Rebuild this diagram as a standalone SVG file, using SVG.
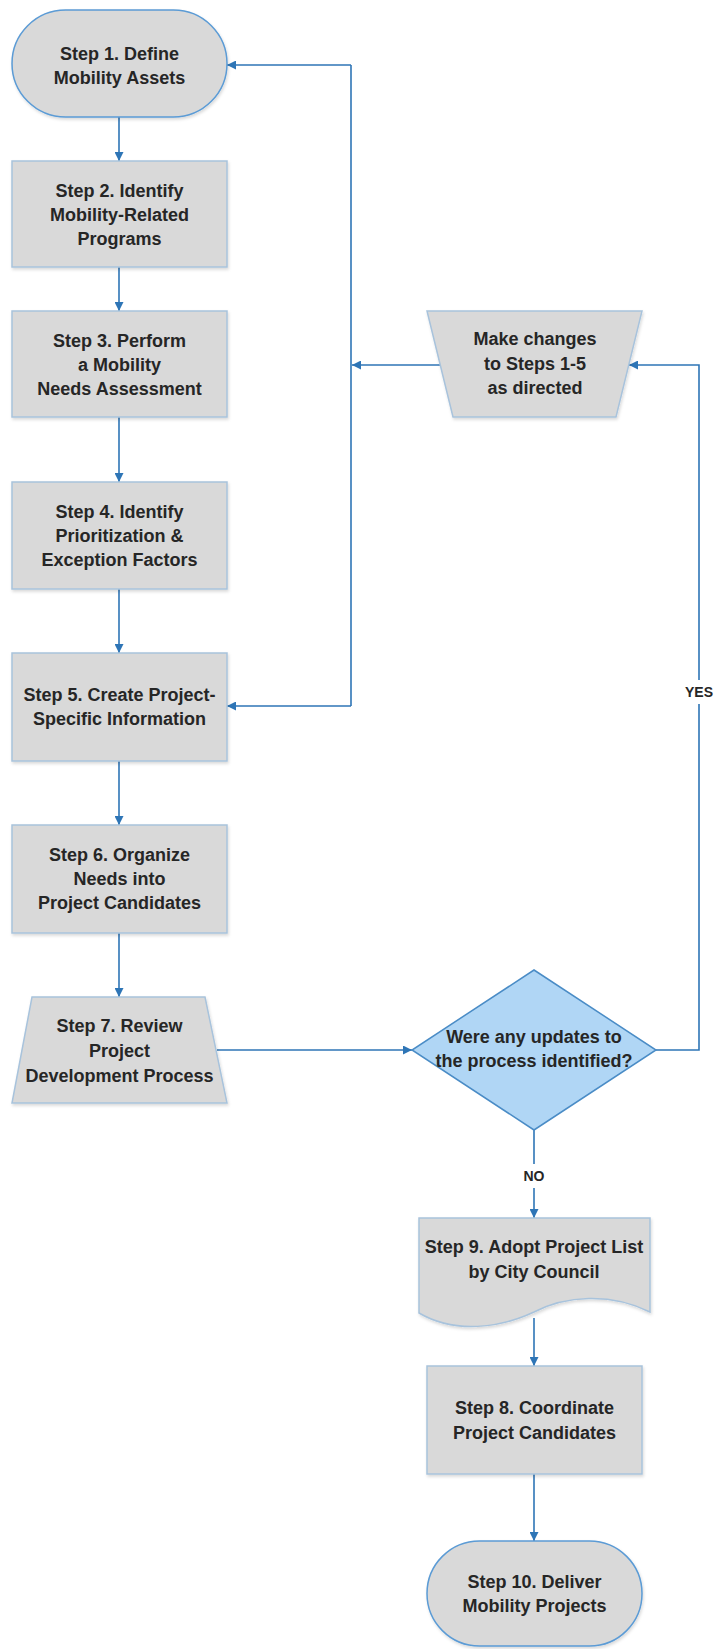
<svg xmlns="http://www.w3.org/2000/svg" width="718" height="1649" viewBox="0 0 718 1649">
<defs>
<marker id="ah" viewBox="0 0 10 10" refX="10" refY="5" markerWidth="9" markerHeight="9" markerUnits="userSpaceOnUse" orient="auto">
<path d="M0,0 L10,5 L0,10 Z" fill="#2e75b6"/>
</marker>
<filter id="sh" x="-5%" y="-5%" width="112%" height="115%">
<feDropShadow dx="1" dy="2" stdDeviation="1.5" flood-color="#000" flood-opacity="0.15"/>
</filter>
</defs>
<style>
.box{fill:#d9d9d9;stroke:#a8c3dc;stroke-width:1.5;filter:url(#sh)}
.term{fill:#d9d9d9;stroke:#5b9bd5;stroke-width:1.5;filter:url(#sh)}
.dia{fill:#b0d6f5;stroke:#4a8cc6;stroke-width:1.5}
.t{font-family:"Liberation Sans",Arial,sans-serif;font-weight:bold;font-size:18px;fill:#262626;text-anchor:middle}
.lbl{font-family:"Liberation Sans",Arial,sans-serif;font-weight:bold;font-size:14px;fill:#262626;text-anchor:middle}
.c{fill:none;stroke:#2e75b6;stroke-width:1.6}
.ca{fill:none;stroke:#2e75b6;stroke-width:1.6;marker-end:url(#ah)}
</style>
<rect width="718" height="1649" fill="#fff"/>
<g id="connectors">
<path class="ca" d="M119,117 V161"/>
<path class="ca" d="M119,267 V311"/>
<path class="ca" d="M119,417 V482"/>
<path class="ca" d="M119,589 V653"/>
<path class="ca" d="M119,761 V825"/>
<path class="ca" d="M119,933 V997"/>
<path class="ca" d="M217,1050 H412"/>
<path class="c" d="M534,1130 V1164"/>
<path class="ca" d="M534,1188 V1218"/>
<path class="ca" d="M534,1318 V1366"/>
<path class="ca" d="M534,1474 V1541"/>
<path class="c" d="M656,1050 H699 V704"/>
<path class="ca" d="M699,680 V365 H629"/>
<path class="ca" d="M440,365 H352"/>
<path class="c" d="M351,65 V706"/>
<path class="ca" d="M351,65 H227"/>
<path class="ca" d="M351,706 H227"/>
<text class="lbl" x="534" y="1181">NO</text>
<text class="lbl" x="699" y="697">YES</text>
</g>
<g id="step1">
<rect class="term" x="12" y="10" width="215" height="107" rx="53.5" ry="53.5"/>
<text class="t" x="119.5" y="60">Step 1. Define</text>
<text class="t" x="119.5" y="84">Mobility Assets</text>
</g>
<g id="step2">
<rect class="box" x="12" y="161" width="215" height="106"/>
<text class="t" x="119.5" y="197">Step 2. Identify</text>
<text class="t" x="119.5" y="221">Mobility-Related</text>
<text class="t" x="119.5" y="245">Programs</text>
</g>
<g id="step3">
<rect class="box" x="12" y="311" width="215" height="106"/>
<text class="t" x="119.5" y="347">Step 3. Perform</text>
<text class="t" x="119.5" y="371">a Mobility</text>
<text class="t" x="119.5" y="395">Needs Assessment</text>
</g>
<g id="step4">
<rect class="box" x="12" y="482" width="215" height="107"/>
<text class="t" x="119.5" y="518">Step 4. Identify</text>
<text class="t" x="119.5" y="542">Prioritization &amp;</text>
<text class="t" x="119.5" y="566">Exception Factors</text>
</g>
<g id="step5">
<rect class="box" x="12" y="653" width="215" height="108"/>
<text class="t" x="119.5" y="701">Step 5. Create Project-</text>
<text class="t" x="119.5" y="725">Specific Information</text>
</g>
<g id="step6">
<rect class="box" x="12" y="825" width="215" height="108"/>
<text class="t" x="119.5" y="861">Step 6. Organize</text>
<text class="t" x="119.5" y="885">Needs into</text>
<text class="t" x="119.5" y="909">Project Candidates</text>
</g>
<g id="step7">
<path class="box" d="M32,997 H205 L227,1103 H12 Z"/>
<text class="t" x="119.5" y="1032">Step 7. Review</text>
<text class="t" x="119.5" y="1057">Project</text>
<text class="t" x="119.5" y="1082">Development Process</text>
</g>
<g id="decision">
<path class="dia" d="M534,970 L656,1050 L534,1130 L412,1050 Z"/>
<text class="t" x="534" y="1043">Were any updates to</text>
<text class="t" x="534" y="1067">the process identified?</text>
</g>
<g id="changes">
<path class="box" d="M427,311 H642 L616,417 H453 Z"/>
<text class="t" x="535" y="345">Make changes</text>
<text class="t" x="535" y="370">to Steps 1-5</text>
<text class="t" x="535" y="394">as directed</text>
</g>
<g id="step9">
<path class="box" d="M419,1218 H650 V1312 C610,1292 565,1296 534,1312 C500,1328 455,1334 419,1313 Z"/>
<text class="t" x="534" y="1253">Step 9. Adopt Project List</text>
<text class="t" x="534" y="1278">by City Council</text>
</g>
<g id="step8">
<rect class="box" x="427" y="1366" width="215" height="108"/>
<text class="t" x="534.5" y="1414">Step 8. Coordinate</text>
<text class="t" x="534.5" y="1439">Project Candidates</text>
</g>
<g id="step10">
<rect class="term" x="427" y="1541" width="215" height="105" rx="52.5" ry="52.5"/>
<text class="t" x="534.5" y="1588">Step 10. Deliver</text>
<text class="t" x="534.5" y="1612">Mobility Projects</text>
</g>
</svg>
